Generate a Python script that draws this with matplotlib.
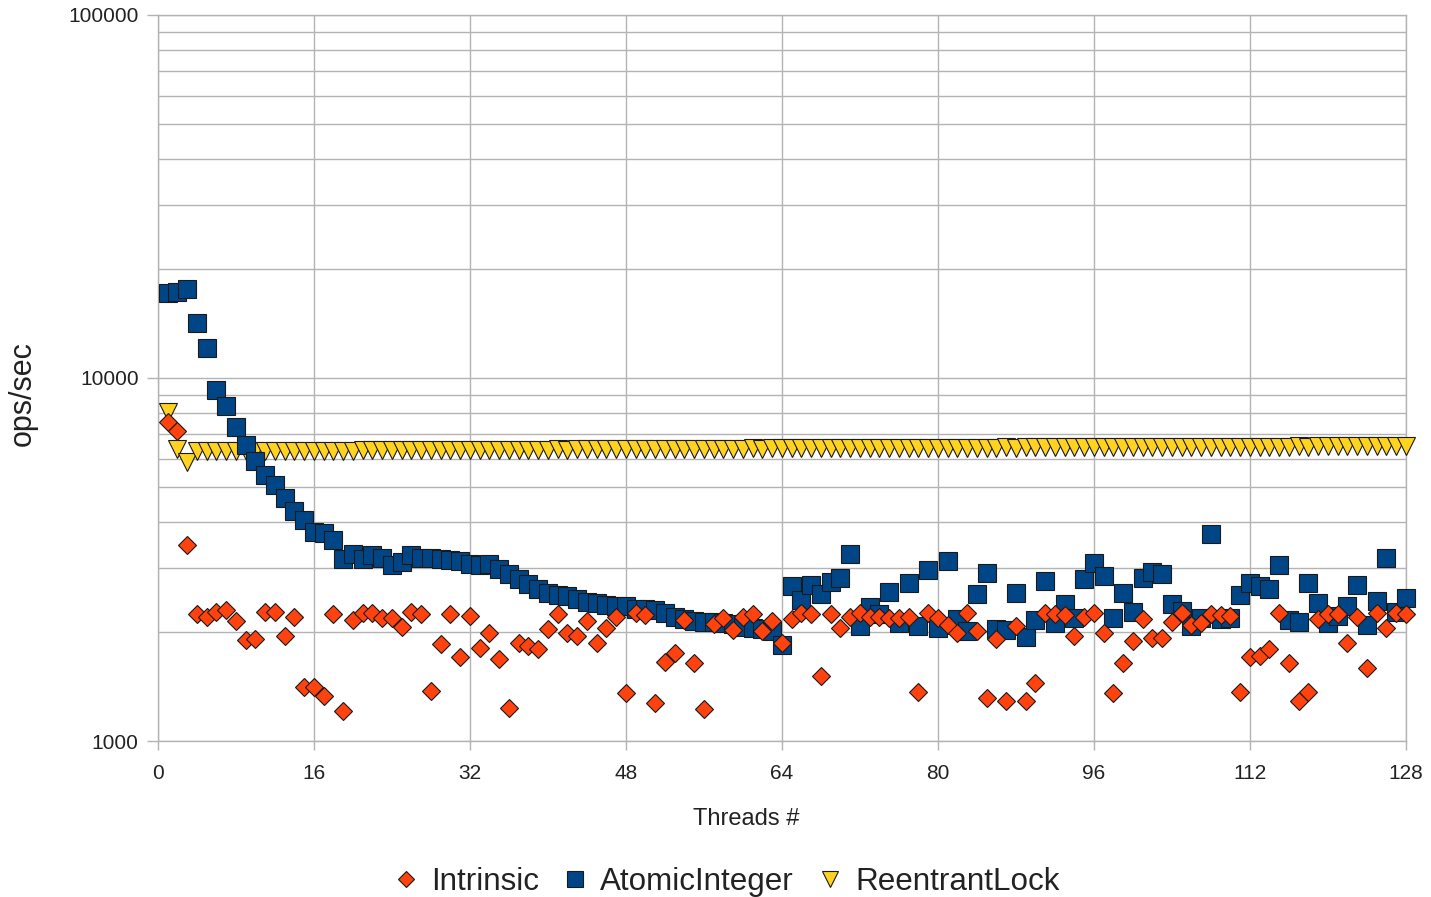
import matplotlib
matplotlib.use("Agg")
import matplotlib.pyplot as plt
from matplotlib.ticker import FixedLocator, LogLocator, NullFormatter, FuncFormatter

plt.rcParams['font.family'] = ['Liberation Sans', 'DejaVu Sans']

threads = list(range(1, 129))

intrinsic = [
    7580, 7145, 3467, 2234, 2200, 2270, 2295, 2143, 1897, 1905,
    2270, 2270, 1950, 2192, 1411, 1411, 1330, 2234, 1209, 2154,
    2256, 2256, 2187, 2180, 2056, 2270, 2234, 1376, 1849, 2234,
    1701, 2213, 1800, 1981, 1679, 1230, 1858, 1830, 1792, 2032,
    2238, 1981, 1950, 2142, 1858, 2045, 2200, 1353, 2256, 2223,
    1270, 1654, 1744, 2154, 1637, 1223, 2097, 2178, 2022, 2200,
    2238, 2012, 2142, 1858, 2168, 2256, 2245, 1514, 2245, 2045,
    2200, 2256, 2200, 2200, 2187, 2187, 2200, 1367, 2256, 2178,
    2087, 1981, 2256, 2012, 1311, 1905, 1289, 2077, 1289, 1447,
    2256, 2238, 2223, 1946, 2200, 2256, 1981, 1358, 1637, 1886,
    2163, 1918, 1918, 2131, 2256, 2087, 2110, 2245, 2223, 2210,
    1367, 1701, 1710, 1789, 2256, 1637, 1289, 1367, 2163, 2233,
    2233, 1858, 2190, 1592, 2256, 2045, 2256, 2233,
]

atomic_integer = [
    17130, 17200, 17580, 14130, 12130, 9290, 8350, 7345, 6530, 5905,
    5410, 5075, 4670, 4305, 4070, 3765, 3750, 3575, 3165, 3280,
    3165, 3255, 3200, 3063, 3110, 3260, 3200, 3200, 3165, 3150,
    3125, 3080, 3063, 3080, 2985, 2877, 2787, 2700, 2620, 2562,
    2530, 2504, 2455, 2410, 2405, 2364, 2355, 2350, 2315, 2305,
    2290, 2249, 2200, 2163, 2138, 2125, 2125, 2120, 2100, 2065,
    2050, 2032, 2010, 1841, 2669, 2444, 2690, 2538, 2745, 2820,
    3285, 2075, 2347, 2234, 2577, 2111, 2730, 2075, 2958, 2051,
    3136, 2171, 2012, 2538, 2897, 2037, 2022, 2564, 1938, 2154,
    2755, 2111, 2392, 2180, 2798, 3097, 2851, 2176, 2564, 2270,
    2820, 2918, 2888, 2392, 2279, 2071, 2185, 3723, 2171, 2185,
    2523, 2721, 2665, 2627, 3050, 2154, 2127, 2730, 2395, 2108,
    2207, 2350, 2698, 2087, 2423, 3197, 2260, 2485,
]

reentrant_lock = [
    8050, 6370, 5880,
    6300, 6290, 6300, 6300, 6310, 6300, 6300, 6300, 6310, 6300,
    6300, 6310, 6300, 6310, 6310, 6300, 6310,
    6320, 6320, 6330, 6320, 6330, 6330, 6320, 6330, 6340, 6330,
    6330, 6340, 6340, 6330, 6350, 6340, 6340, 6350, 6350, 6350,
    6360, 6350, 6360, 6360, 6370, 6360, 6370, 6370, 6370, 6380,
    6370, 6380, 6380, 6380, 6380, 6390, 6380, 6390, 6390, 6390,
    6400, 6390, 6400, 6400,
    6400, 6400, 6410, 6400, 6410, 6410, 6410, 6410, 6420, 6410,
    6420, 6420, 6420, 6420, 6420, 6430, 6420, 6430, 6430, 6430,
    6430, 6430, 6440, 6430, 6440, 6440,
    6440, 6440, 6440, 6450, 6440, 6450, 6450, 6450, 6450, 6450,
    6450, 6460, 6450, 6460, 6460, 6460, 6460, 6460, 6460, 6470,
    6460, 6470, 6470, 6470, 6470, 6470, 6480, 6470, 6480, 6480,
    6480, 6480, 6480, 6490, 6480, 6490, 6490, 6490,
]

x_ticks = [0, 16, 32, 48, 64, 80, 96, 112, 128]
y_ticks = [1000, 10000, 100000]

fig = plt.figure(figsize=(14.31, 8.97), dpi=100)
ax = fig.add_axes([0.1104, 0.1739, 0.8721, 0.8094])

edge = '#1a1a1a'
h_lock, = ax.plot(threads, reentrant_lock, linestyle='none', marker='v', ms=13.5,
                  mfc='#ffd320', mec=edge, mew=0.8, zorder=3, clip_on=False,
                  label='ReentrantLock')
h_atomic, = ax.plot(threads, atomic_integer, linestyle='none', marker='s', ms=13,
                    mfc='#004586', mec=edge, mew=0.8, zorder=4, clip_on=False,
                    label='AtomicInteger')
h_intr, = ax.plot(threads, intrinsic, linestyle='none', marker='D', ms=9.5,
                  mfc='#ff420e', mec=edge, mew=0.8, zorder=5, clip_on=False,
                  label='Intrinsic')

ax.set_yscale('log')
ax.set_xlim(0, 128)
ax.set_ylim(1000, 100000)
ax.set_xticks(x_ticks)
ax.yaxis.set_major_locator(FixedLocator(y_ticks))
ax.yaxis.set_major_formatter(FuncFormatter(lambda v, p: f'{int(round(v))}'))
ax.yaxis.set_minor_locator(LogLocator(base=10, subs=range(2, 10)))
ax.yaxis.set_minor_formatter(NullFormatter())

grid_col = '#b3b3b3'
ax.grid(True, which='both', color=grid_col, lw=1)
ax.set_axisbelow(True)
for s in ax.spines.values():
    s.set_color(grid_col)
    s.set_linewidth(1)

ax.tick_params(axis='y', which='major', length=8, width=1, color=grid_col,
               labelsize=15, labelcolor='#222222', pad=6)
ax.tick_params(axis='y', which='minor', length=0)
ax.tick_params(axis='x', which='major', length=6.5, width=1, color=grid_col,
               labelsize=15, labelcolor='#222222', pad=10)

ax.set_ylabel('ops/sec', fontsize=22, color='#222222')
ax.yaxis.set_label_coords(-0.0962, 0.479)
ax.set_xlabel('Threads #', fontsize=17, color='#222222')
ax.xaxis.set_label_coords(0.471, -0.0923)

fig.legend(handles=[h_intr, h_atomic, h_lock],
           labels=['Intrinsic', 'AtomicInteger', 'ReentrantLock'],
           loc='center', bbox_to_anchor=(0.5077, 1 - 882 / 897), ncol=3,
           frameon=False, fontsize=22.6, markerscale=0.9, handlelength=0.8,
           handletextpad=0.4, columnspacing=0.75, labelcolor='#222222')

fig.savefig('out.png', dpi=100)
